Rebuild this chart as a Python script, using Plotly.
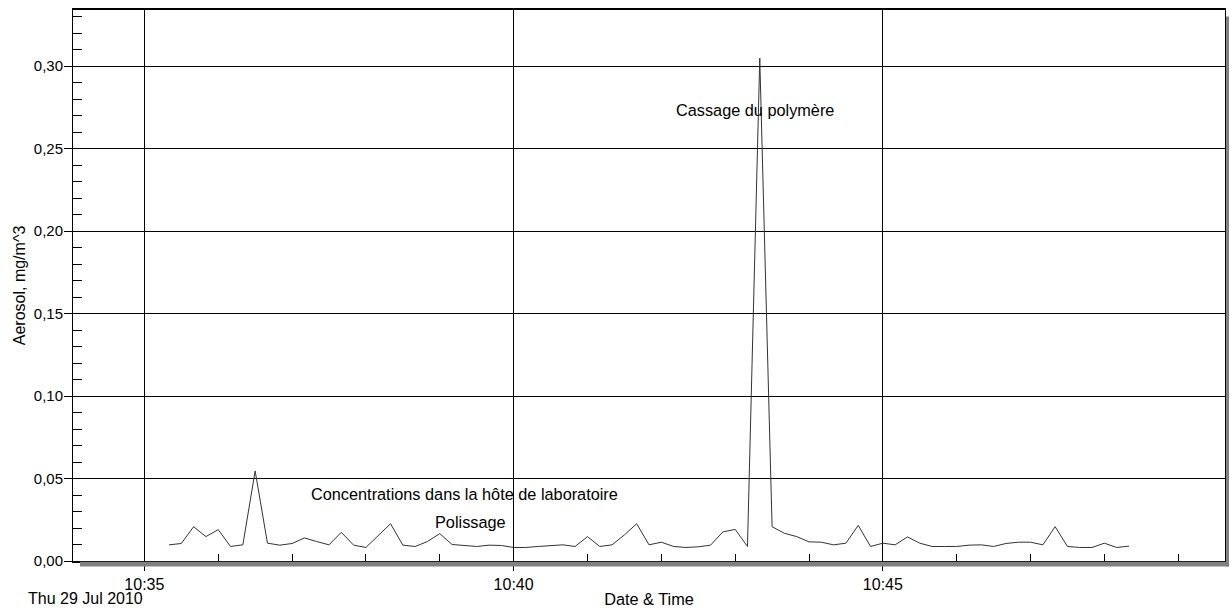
import pandas as pd
import plotly.graph_objects as go

# ---- data ----
start_time = "2010-07-29 10:35:20"
sample_interval = "10s"
aerosol = [
    0.0098, 0.0106, 0.0208, 0.0148, 0.0190, 0.0088, 0.0098, 0.0546, 0.0108, 0.0096,
    0.0106, 0.0140, 0.0118, 0.0098, 0.0174, 0.0096, 0.0082, 0.0152, 0.0226, 0.0096,
    0.0088, 0.0118, 0.0166, 0.0100, 0.0096, 0.0088, 0.0096, 0.0094, 0.0082, 0.0082,
    0.0088, 0.0094, 0.0098, 0.0088, 0.0148, 0.0088, 0.0098, 0.0158, 0.0226, 0.0098,
    0.0114, 0.0088, 0.0082, 0.0086, 0.0096, 0.0176, 0.0192, 0.0088, 0.3048, 0.0208,
    0.0168, 0.0148, 0.0116, 0.0114, 0.0098, 0.0108, 0.0216, 0.0088, 0.0108, 0.0098,
    0.0146, 0.0108, 0.0088, 0.0088, 0.0088, 0.0096, 0.0098, 0.0088, 0.0106, 0.0114,
    0.0114, 0.0098, 0.0208, 0.0088, 0.0082, 0.0082, 0.0108, 0.0082, 0.0090,
]
times = pd.date_range(start=start_time, periods=len(aerosol), freq=sample_interval)

note_texts = ["Cassage du polymère", "Concentrations dans la hôte de laboratoire", "Polissage"]
note_times = ["2010-07-29 10:43:16", "2010-07-29 10:39:20", "2010-07-29 10:39:25"]
note_values = [0.2733, 0.0408, 0.0236]

x_range = ["2010-07-29 10:34:02", "2010-07-29 10:49:38"]
y_range = [0, 0.334]
date_label = "Thu 29 Jul 2010"

FONT = "Liberation Sans, Arial, sans-serif"

fig = go.Figure()
fig.add_trace(go.Scatter(
    x=times, y=aerosol, mode="lines",
    line=dict(color="#333333", width=1),
    showlegend=False, hoverinfo="x+y",
))

for t, xv, yv in zip(note_texts, note_times, note_values):
    fig.add_annotation(x=xv, y=yv, xref="x", yref="y", text=t, showarrow=False,
                       font=dict(family=FONT, size=16.3, color="black"),
                       xanchor="center", yanchor="middle")

fig.add_annotation(x=0.0629, y=-0.0675, xref="paper", yref="paper", text=date_label,
                   showarrow=False, xanchor="right", yanchor="middle",
                   font=dict(family=FONT, size=16, color="black"))

# shadow of the frame
fig.add_shape(type="rect", xref="paper", yref="paper",
              x0=0.006, x1=1.0035, y0=-0.0098, y1=-0.0012,
              fillcolor="#808080", line=dict(width=0), layer="above")
fig.add_shape(type="rect", xref="paper", yref="paper",
              x0=1.0009, x1=1.0035, y0=-0.0098, y1=0.9883,
              fillcolor="#808080", line=dict(width=0), layer="above")

fig.update_layout(
    width=1230, height=610, autosize=False,
    margin=dict(l=73, r=4, t=10, b=45, pad=0),
    paper_bgcolor="white", plot_bgcolor="white",
    separators=", ",
    font=dict(family=FONT, size=15, color="black"),
)

fig.update_xaxes(
    type="date", range=x_range,
    tick0="2010-07-29 10:35:00", dtick=300000, tickformat="%H:%M",
    showgrid=True, gridcolor="black", gridwidth=1,
    ticks="outside", ticklen=8, tickcolor="black", tickwidth=1,
    minor=dict(dtick=60000, ticks="inside", ticklen=7, tickcolor="black", showgrid=False),
    showline=True, linecolor="black", linewidth=1.5, mirror=True,
    zeroline=False,
    tickfont=dict(family=FONT, size=16, color="black"),
    title=dict(text="Date & Time", font=dict(family=FONT, size=16.3, color="black"), standoff=2),
)
fig.update_yaxes(
    range=y_range, dtick=0.05, tick0=0, tickformat=".2f",
    showgrid=True, gridcolor="black", gridwidth=1,
    ticks="outside", ticklen=8, tickcolor="black", tickwidth=1,
    minor=dict(dtick=0.01, ticks="inside", ticklen=9, tickcolor="black", showgrid=False),
    showline=True, linecolor="black", linewidth=1, mirror=True,
    zeroline=False, ticklabelstandoff=-2,
    tickfont=dict(family=FONT, size=15, color="black"),
    title=dict(text="Aerosol, mg/m^3", font=dict(family=FONT, size=16, color="black"), standoff=4),
)

fig.write_html("out.html", config={"displayModeBar": False},
               post_script="document.body.style.margin='0';")
